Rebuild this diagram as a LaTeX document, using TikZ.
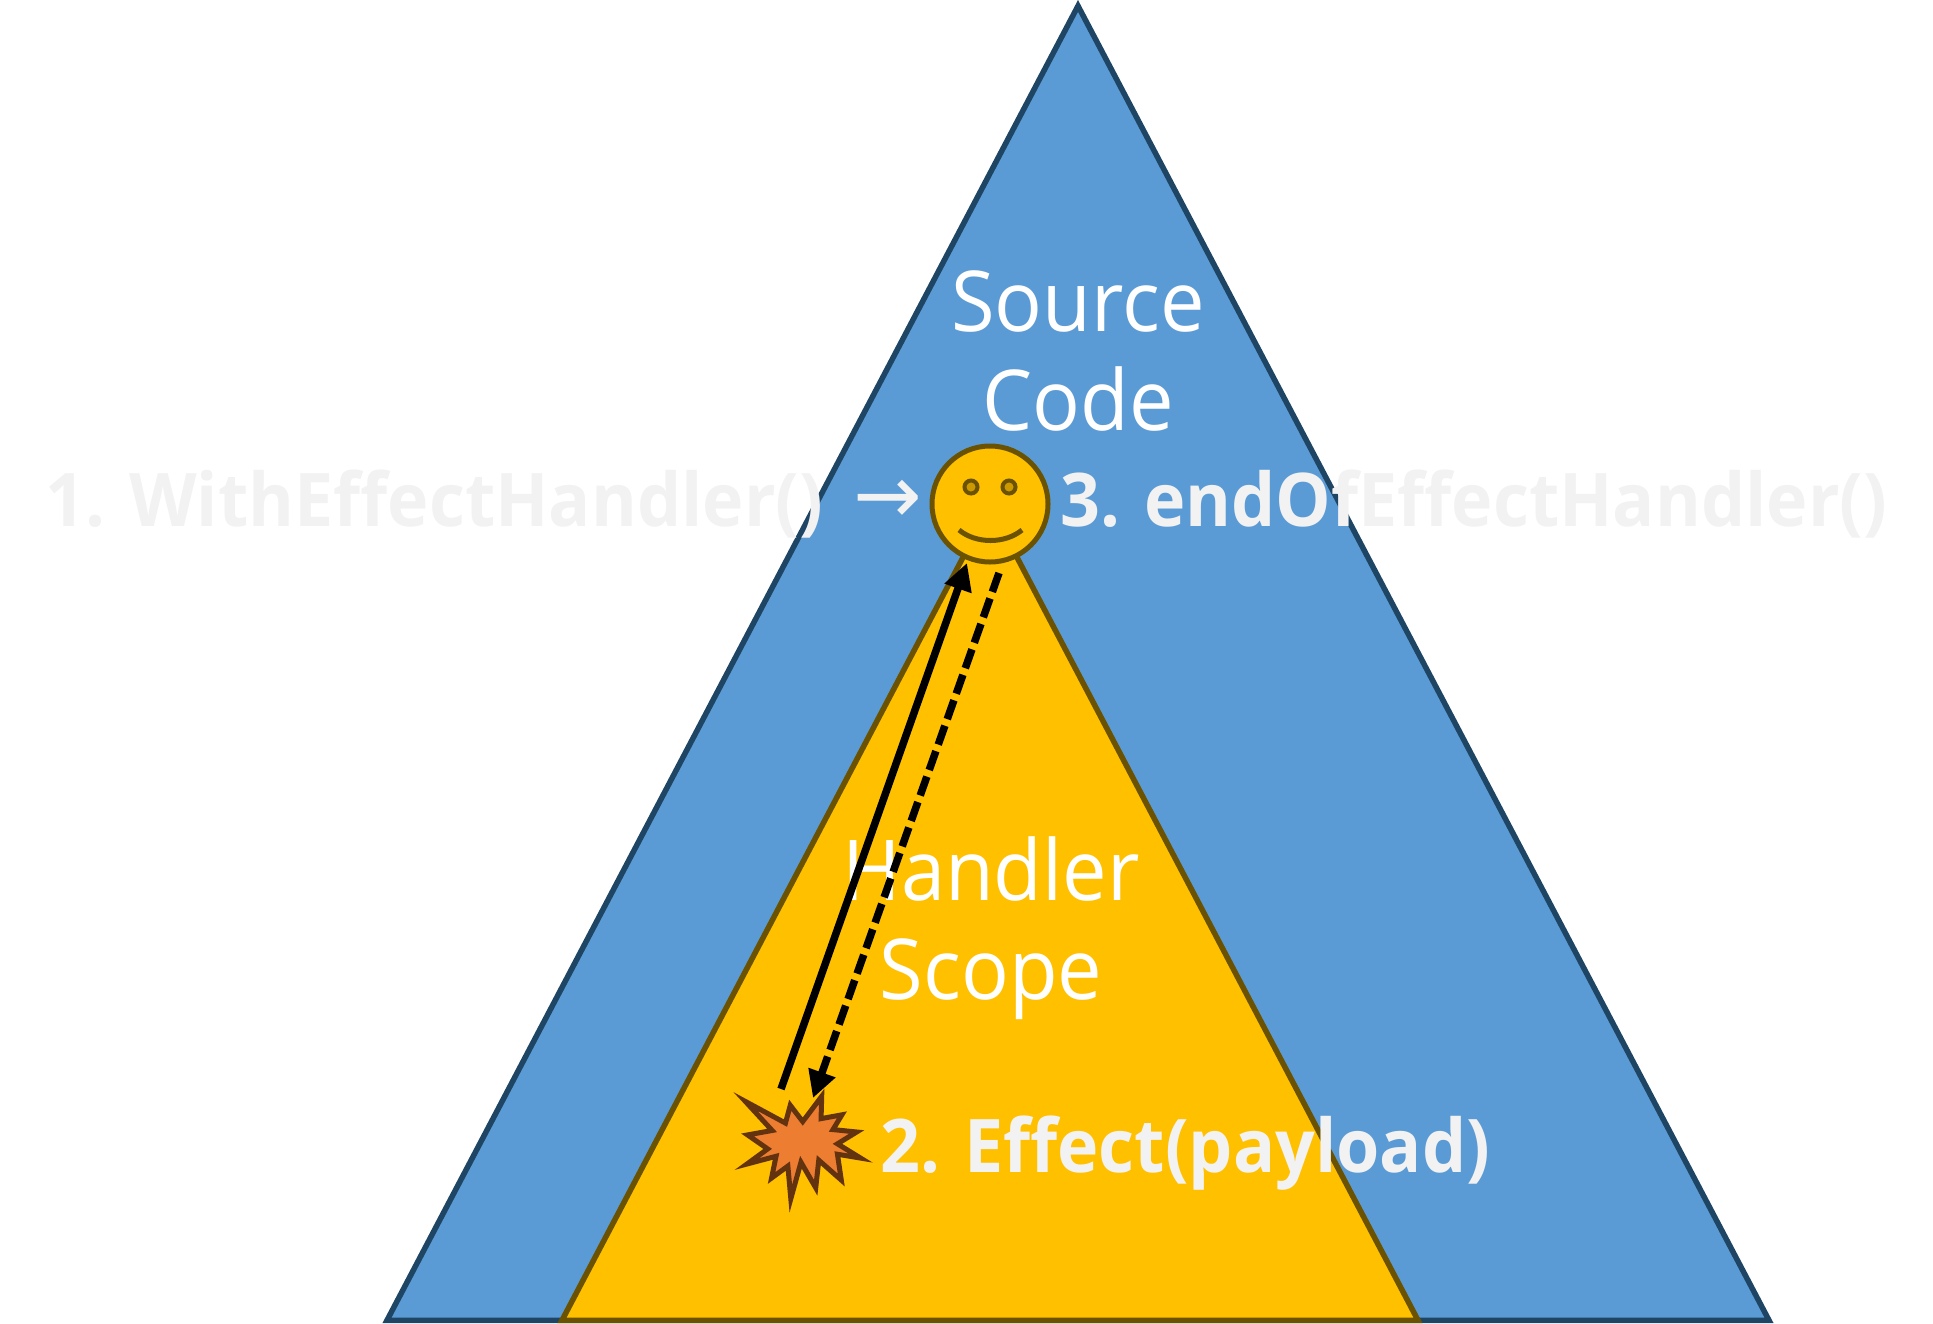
\documentclass[tikz,border=0pt]{standalone}
\usepackage{fontspec}
\setmainfont{Open Sans}
\newfontfamily\arrowfont{DejaVu Sans}
\newfontfamily\scopefont[FakeStretch=0.945]{Open Sans}
\usepackage{tikz}
\usetikzlibrary{arrows.meta}
\definecolor{srcblue}{HTML}{5B9BD5}
\definecolor{srcline}{HTML}{1F4564}
\definecolor{hdlyellow}{HTML}{FFC000}
\definecolor{hdlline}{HTML}{6B5200}
\definecolor{eyefill}{HTML}{CC9A00}
\definecolor{boomfill}{HTML}{ED7D31}
\definecolor{boomline}{HTML}{63330F}
\definecolor{paletext}{HTML}{F2F2F2}
\tikzstyle{scopetext}=[align=center,text=white,inner sep=0mm,font=\scopefont\fontsize{84}{99}\selectfont]
\tikzstyle{steptext}=[anchor=west,text=paletext,inner sep=0mm,font=\scopefont\fontsize{74}{99}\selectfont\bfseries]
\tikzstyle{callline}=[black,line width=7.5pt,-{Triangle[length=27pt,width=27pt]}]

\begin{document}
\begin{tikzpicture}[x=1pt,y=-1pt]
    \useasboundingbox (0,0) rectangle (1933,1323);
    \draw[srcline,line width=5.5pt,fill=srcblue] (387,1320.3) -- (1078,5.9) -- (1769,1320.3) -- cycle;
    \draw[hdlline,line width=5.5pt,fill=hdlyellow] (562,1320.3) -- (990,506) -- (1418,1320.3) -- cycle;
    \node[scopetext] at (1078,351) (src) {Source\\Code};
    \node[scopetext] at (991,928) (hdl) {Handler\\Scope};
    % the smiley
    \draw[hdlline,line width=5pt,fill=hdlyellow] (990,504) circle (58);
    \draw[hdlline,line width=4pt,fill=eyefill] (971,487) circle (6.5);
    \draw[hdlline,line width=4pt,fill=eyefill] (1009,487) circle (6.5);
    \draw[hdlline,line width=5pt] (959,530) .. controls (976,544) and (1005,544) .. (1022,530);
    % the effect
    \draw[boomline,line width=5pt,fill=boomfill,scale around={.89:(803,1148)}] (788.7,1100) -- (802.7,1118.3) -- (824,1090) -- (823.3,1115) -- (846.7,1110.7) -- (836.7,1127.3) -- (863.3,1130) -- (841.7,1143.3) -- (867.7,1159.3) -- (841.7,1155) -- (846,1184) -- (820.7,1161.7) -- (817.3,1192.7) -- (800.7,1164) -- (789.3,1205) -- (786,1168.3) -- (767.7,1181.7) -- (772.7,1157.3) -- (740,1166) -- (763.3,1149) -- (740.7,1133.3) -- (768.3,1128.3) -- (738.3,1095.7) -- (783.3,1120) -- cycle;
    \coordinate (up0) at (781,1089);
    \coordinate (up1) at (967,563);
    \coordinate (dn0) at (999,573);
    \coordinate (dn1) at (813,1098);
    \draw[callline] (up0) -- (up1);
    \draw[callline,dash pattern=on 20pt off 7pt] (dn0) -- (dn1);
    \node[steptext] at (45,504) (with) {1. WithEffectHandler()};
    \node[anchor=center,text=paletext,inner sep=0mm,font=\arrowfont\fontsize{82}{99}\selectfont] at (888,502) (witharrow) {→};
    \node[steptext] at (1060,504) (endof) {3. endOfEffectHandler()};
    \node[steptext] at (880,1153) (eff) {2. Effect(payload)};
\end{tikzpicture}
\end{document}
